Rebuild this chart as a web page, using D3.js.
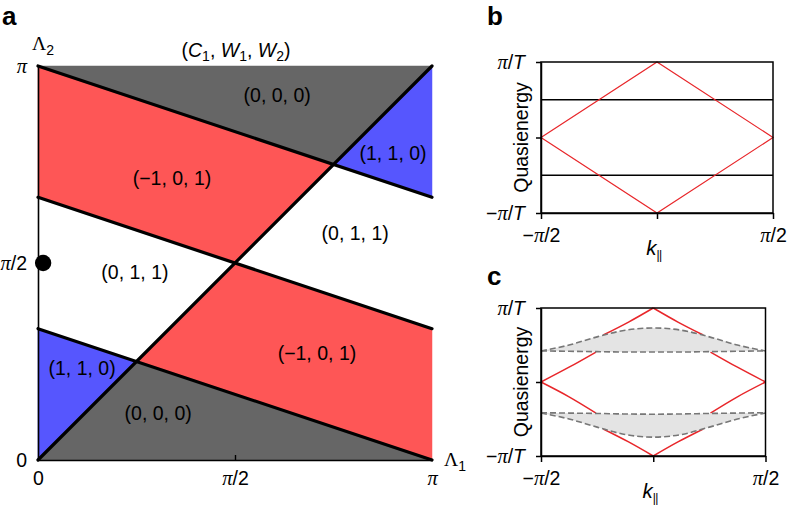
<!DOCTYPE html>
<html><head><meta charset="utf-8">
<script src="https://cdn.jsdelivr.net/npm/d3@7"></script>
<style>
body{margin:0;background:#fff;}
svg{display:block;font-family:"Liberation Sans",Arial,Helvetica,sans-serif;}
</style></head>
<body><svg id="chart" width="788" height="507"></svg>
<script>
// ---------- Panel a data (units of π) ----------
const lambdaTicks = [0, 0.5, 1];
const lambdaTickLabels = ["0", "π/2", "π"];
const boundaryLines = [
  [[0, 0], [1, 1]],
  [[0, 1], [1, 2/3]],
  [[0, 2/3], [1, 1/3]],
  [[0, 1/3], [1, 0]]
];
const regionPolys = [
  [[0,1],[1,1],[0.75,0.75]],
  [[1,1],[1,2/3],[0.75,0.75]],
  [[0,1],[0.75,0.75],[0.5,0.5],[0,2/3]],
  [[0.75,0.75],[1,2/3],[1,1/3],[0.5,0.5]],
  [[0,2/3],[0.5,0.5],[0.25,0.25],[0,1/3]],
  [[0.5,0.5],[1,1/3],[1,0],[0.25,0.25]],
  [[0,1/3],[0.25,0.25],[0,0]],
  [[0,0],[0.25,0.25],[1,0]]
];
const regionPhase = ["gray","blue","red","white","white","red","blue","gray"];
const phaseColors = {gray:"#666666", blue:"#5656fe", red:"#fe5656", white:"#ffffff"};
const regionLabels = [
  {t:"(0, 0, 0)", l1:0.607, l2:0.926},
  {t:"(1, 1, 0)", l1:0.901, l2:0.779},
  {t:"(\u22121, 0, 1)", l1:0.34, l2:0.716},
  {t:"(0, 1, 1)", l1:0.805, l2:0.576},
  {t:"(0, 1, 1)", l1:0.246, l2:0.477},
  {t:"(\u22121, 0, 1)", l1:0.708, l2:0.272},
  {t:"(1, 1, 0)", l1:0.112, l2:0.234},
  {t:"(0, 0, 0)", l1:0.305, l2:0.119}
];
const markedPoint = [{l1:0.013, l2:0.5}];

// ---------- Panels b, c data (k in units of π/2, E in units of π/T) ----------
const kTicks = [-1, 0, 1];
const kTickLabels = ["\u2212π/2", "", "π/2"];
const eTicks = [-1, 0, 1];
const eTickLabels = ["\u2212π/T", "", "π/T"];

const edgeB = [[-1,0],[0,1],[1,0],[0,-1],[-1,0]];
const flatBandsB = [0.5, -0.5];

const kGrid = [-1, -0.75, -0.5, -0.25, 0, 0.25, 0.5, 0.75, 1];
const bandUpperTop    = [0.42, 0.50, 0.61, 0.70, 0.73, 0.70, 0.61, 0.50, 0.42];
const bandUpperBottom = [0.42, 0.415, 0.41, 0.405, 0.405, 0.405, 0.41, 0.415, 0.42];
const bandLowerTop    = [-0.415, -0.42, -0.425, -0.432, -0.435, -0.432, -0.425, -0.42, -0.415];
const bandLowerBottom = [-0.42, -0.50, -0.61, -0.71, -0.745, -0.71, -0.61, -0.50, -0.42];
const edgeC = [
  [[-1,0],[-0.75,0.2],[-0.51,0.405]],
  [[-0.445,0.635],[-0.22,0.81],[0,1]],
  [[1,0],[0.75,0.2],[0.51,0.405]],
  [[0.445,0.635],[0.22,0.81],[0,1]],
  [[-1,0],[-0.75,-0.2],[-0.51,-0.42]],
  [[-0.445,-0.635],[-0.22,-0.81],[0,-1]],
  [[1,0],[0.75,-0.2],[0.51,-0.42]],
  [[0.445,-0.635],[0.22,-0.81],[0,-1]]
];

// ---------- helpers ----------
const svg = d3.select("#chart");
const FS = 19.5;

function richText(sel, str){
  const parts = str.split(/(π|T)/).filter(s => s.length);
  parts.forEach(p => {
    const ts = sel.append("tspan").text(p);
    if (p === "π") ts.attr("font-family","Liberation Serif, Times New Roman, serif").attr("font-style","italic").attr("font-size", FS*1.05);
    if (p === "T") ts.attr("font-style","italic");
  });
}

// ---------- Panel a ----------
const xA = d3.scaleLinear().domain([0,1]).range([38,432]);
const yA = d3.scaleLinear().domain([0,1]).range([460,66]);
const lineA = d3.line().x(d => xA(d[0])).y(d => yA(d[1]));
const gA = svg.append("g");

gA.selectAll("path.region").data(regionPolys).join("path")
  .attr("class","region")
  .attr("d", d => lineA(d) + "Z")
  .attr("fill", (d,i) => phaseColors[regionPhase[i]])
  .attr("stroke", (d,i) => phaseColors[regionPhase[i]])
  .attr("stroke-width", 0.5);

const axA_x = d3.axisBottom(xA).tickValues(lambdaTicks).tickSizeInner(-5).tickSizeOuter(0).tickPadding(11)
  .tickFormat((d,i) => lambdaTickLabels[i]);
const gAx = gA.append("g").attr("transform", `translate(0,${yA(0)})`).call(axA_x);
const axA_y = d3.axisLeft(yA).tickValues(lambdaTicks).tickSize(0).tickPadding(11)
  .tickFormat((d,i) => lambdaTickLabels[i]);
const gAy = gA.append("g").attr("transform", `translate(${xA(0)},0)`).call(axA_y);
[gAx, gAy].forEach(g => {
  g.select(".domain").attr("stroke","#000").attr("stroke-width",1.6);
  g.selectAll(".tick line").attr("stroke","#000").attr("stroke-width",1.4);
  g.selectAll(".tick text").attr("font-size",FS).attr("font-family","Liberation Sans, Arial, sans-serif").attr("fill","#000")
    .each(function(){ const t=d3.select(this); const s=t.text(); t.text(""); richText(t,s); });
});
gAx.selectAll(".tick").filter(d => d !== 0.5).select("line").remove();

gA.selectAll("path.bound").data(boundaryLines).join("path")
  .attr("class","bound").attr("d", lineA)
  .attr("stroke","#000").attr("stroke-width",3.2).attr("stroke-linecap","round").attr("fill","none");

gA.selectAll("text.rl").data(regionLabels).join("text")
  .attr("class","rl").attr("x", d => xA(d.l1)).attr("y", d => yA(d.l2))
  .attr("text-anchor","middle").attr("dy","0.35em").attr("font-size",FS).text(d => d.t);

gA.selectAll("circle.mp").data(markedPoint).join("circle")
  .attr("class","mp").attr("cx", d => xA(d.l1)).attr("cy", d => yA(d.l2)).attr("r",8.2).attr("fill","#000");

const tA1 = gA.append("text").attr("x", xA(1)+12).attr("y", yA(0)+6).attr("font-size",FS);
tA1.append("tspan").attr("font-family","Liberation Serif, serif").text("Λ");
tA1.append("tspan").attr("font-size",FS*0.72).attr("dy",5).text("1");
const tA2 = gA.append("text").attr("x", 32).attr("y", 50).attr("font-size",FS);
tA2.append("tspan").attr("font-family","Liberation Serif, serif").text("Λ");
tA2.append("tspan").attr("font-size",FS*0.72).attr("dy",5).text("2");

// title (C1, W1, W2)
const title = gA.append("text").attr("x", 236).attr("y", 57).attr("text-anchor","middle").attr("font-size",FS);
const titleParts = [["(",null],["C","1"],[", ",null],["W","1"],[", ",null],["W","2"],[")",null]];
let pendingDy = 0;
titleParts.forEach(([s,sub]) => {
  const main = title.append("tspan").text(s);
  if (pendingDy) { main.attr("dy", pendingDy); pendingDy = 0; }
  if (sub) {
    main.attr("font-style","italic");
    title.append("tspan").attr("font-size",FS*0.72).attr("dy",4).text(sub);
    pendingDy = -4;
  }
});

// panel letters
svg.append("text").attr("x",2).attr("y",25).attr("font-size",26).attr("font-weight","bold").text("a");
svg.append("text").attr("x",487).attr("y",25).attr("font-size",26).attr("font-weight","bold").text("b");
svg.append("text").attr("x",487).attr("y",285).attr("font-size",26).attr("font-weight","bold").text("c");

// ---------- Panels b & c ----------
function bandPanel(x0, x1, yTop, yBot, drawContent){
  const x = d3.scaleLinear().domain([-1,1]).range([x0,x1]);
  const y = d3.scaleLinear().domain([-1,1]).range([yBot,yTop]);
  const g = svg.append("g");
  drawContent(g, x, y);
  g.append("rect").attr("x",x0).attr("y",yTop).attr("width",x1-x0).attr("height",yBot-yTop)
    .attr("fill","none").attr("stroke","#000").attr("stroke-width",1.5);
  const ax = d3.axisBottom(x).tickValues(kTicks).tickSize(6).tickSizeOuter(0).tickPadding(9)
    .tickFormat((d,i) => kTickLabels[i]);
  const gx = g.append("g").attr("transform",`translate(0,${yBot})`).call(ax);
  const ay = d3.axisLeft(y).tickValues(eTicks).tickSize(5).tickSizeOuter(0).tickPadding(11)
    .tickFormat((d,i) => eTickLabels[i]);
  const gy = g.append("g").attr("transform",`translate(${x0},0)`).call(ay);
  [gx, gy].forEach(gg => {
    gg.select(".domain").attr("stroke","#000").attr("stroke-width",1.5);
    gg.selectAll(".tick line").attr("stroke","#000").attr("stroke-width",1.5);
    gg.selectAll(".tick text").attr("font-size",FS).attr("font-family","Liberation Sans, Arial, sans-serif").attr("fill","#000")
      .each(function(){ const t=d3.select(this); const s=t.text(); t.text(""); richText(t,s); });
  });
  const kl = g.append("text").attr("x", x(0)-3).attr("y", yBot+42).attr("text-anchor","middle").attr("font-size",FS+1);
  kl.append("tspan").attr("font-style","italic").text("k");
  kl.append("tspan").attr("font-size",FS*0.62).attr("dy",4).attr("letter-spacing",-0.5).text("||");
  g.append("text").attr("transform",`translate(${x0-13},${(yTop+yBot)/2}) rotate(-90)`)
    .attr("text-anchor","middle").attr("font-size",FS).text("Quasienergy");
}

bandPanel(541, 773, 62, 213, (g, x, y) => {
  const ln = d3.line().x(d => x(d[0])).y(d => y(d[1]));
  g.selectAll("line.flat").data(flatBandsB).join("line").attr("class","flat")
    .attr("x1", x(-1)).attr("x2", x(1)).attr("y1", d => y(d)).attr("y2", d => y(d))
    .attr("stroke","#000").attr("stroke-width",1.3);
  g.append("path").attr("d", ln(edgeB)).attr("fill","none").attr("stroke","#e8262a").attr("stroke-width",1.2);
});

bandPanel(541, 765.5, 308, 456, (g, x, y) => {
  const smooth = d3.line().x(d => x(d[0])).y(d => y(d[1])).curve(d3.curveMonotoneX);
  g.selectAll("path.edge").data(edgeC).join("path").attr("class","edge")
    .attr("d", d => d3.line().x(p => x(p[0])).y(p => y(p[1])).curve(d3.curveCatmullRom)(d))
    .attr("fill","none").attr("stroke","#e8262a").attr("stroke-width",1.5);
  const bands = [[bandUpperTop, bandUpperBottom],[bandLowerTop, bandLowerBottom]];
  bands.forEach(([a,b]) => {
    const area = d3.area().x((d,i) => x(kGrid[i])).y0((d,i) => y(b[i])).y1((d,i) => y(a[i])).curve(d3.curveMonotoneX);
    g.append("path").attr("d", area(a)).attr("fill","#e4e4e4");
    [a,b].forEach(arr => {
      g.append("path").attr("d", smooth(arr.map((v,i) => [kGrid[i], v])))
        .attr("fill","none").attr("stroke","#777").attr("stroke-width",1.6).attr("stroke-dasharray","6,3");
    });
  });
});
</script></body></html>
